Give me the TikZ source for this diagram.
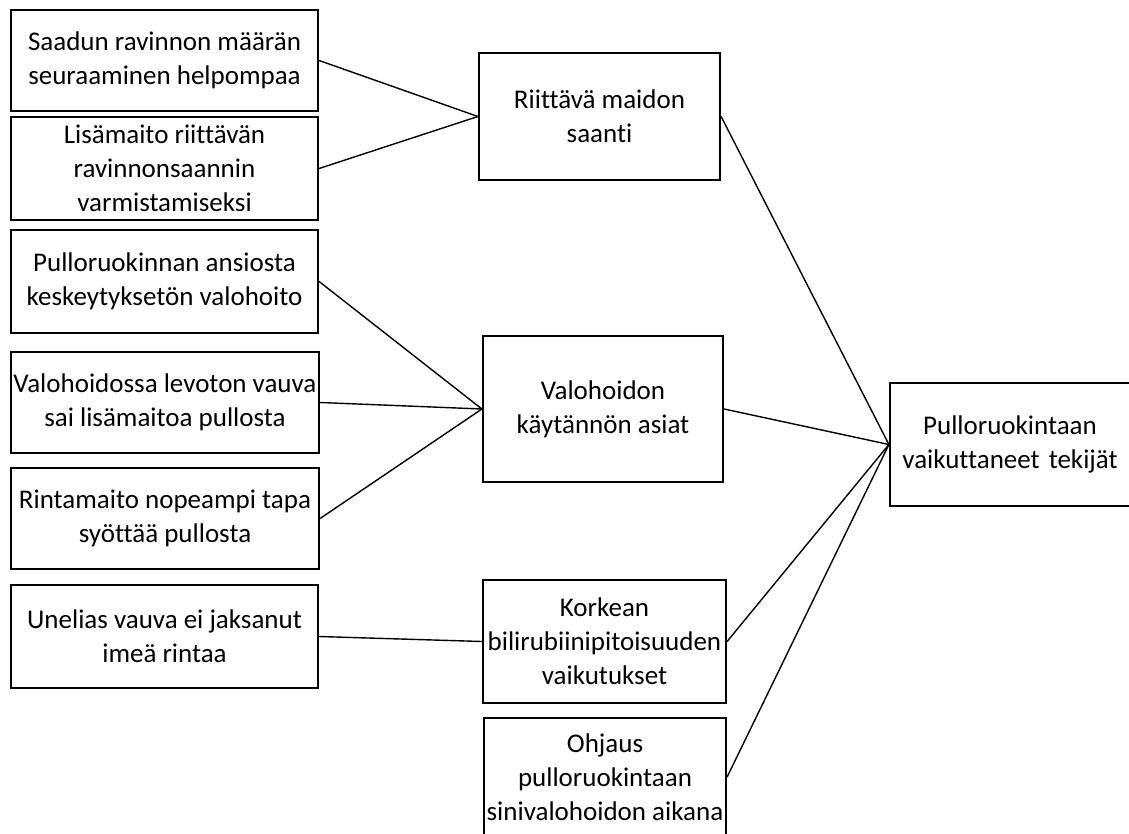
\documentclass[tikz,border=0pt]{standalone}
\usepackage{fontspec}
\setmainfont[RawFeature=-liga]{Carlito}
\begin{document}
\begin{tikzpicture}[x=1pt,y=-1pt,
  box/.style={draw=black, line width=2.2pt, rectangle, align=center, inner sep=0pt,
    font=\fontsize{27}{34}\selectfont},
  conn/.style={draw=black, line width=1.4pt}]
\useasboundingbox (0,0) rectangle (1129,834);
% left boxes
\node[box, minimum width=307pt, minimum height=101pt] (b1) at (164.5,60.5) {Saadun ravinnon määrän\\seuraaminen helpompaa};
\node[box, minimum width=307pt, minimum height=103pt] (b2) at (164.5,168.5) {Lisämaito riittävän\\ravinnonsaannin\\varmistamiseksi};
\node[box, minimum width=307pt, minimum height=103pt] (b3) at (164.5,281.5) {Pulloruokinnan ansiosta\\keskeytyksetön valohoito};
\node[box, minimum width=308pt, minimum height=101pt] (b4) at (165,402.5) {Valohoidossa levoton vauva\\sai lisämaitoa pullosta};
\node[box, minimum width=308pt, minimum height=101pt] (b5) at (165,518.5) {Rintamaito nopeampi tapa\\syöttää pullosta};
\node[box, minimum width=307pt, minimum height=103pt] (b6) at (164.5,636.5) {Unelias vauva ei jaksanut\\imeä rintaa};
% middle boxes
\node[box, minimum width=241pt, minimum height=127pt] (m1) at (599.5,116.5) {Riittävä maidon\\saanti};
\node[box, minimum width=240pt, minimum height=146pt] (m2) at (603,409) {Valohoidon\\käytännön asiat};
\node[box, minimum width=243pt, minimum height=123pt] (m3) at (604.5,641.5) {Korkean\\bilirubiinipitoisuuden\\vaikutukset};
\node[box, minimum width=242pt, minimum height=118pt] (m4) at (605,777) {Ohjaus\\pulloruokintaan\\sinivalohoidon aikana};
% right box
\node[box, minimum width=240pt, minimum height=123pt, text width=240pt] (r) at (1010,444.5) {Pulloruokintaan\\vaikuttaneet tekijät};
% connectors
\draw[conn] (b1.east) -- (m1.west);
\draw[conn] (b2.east) -- (m1.west);
\draw[conn] (b3.east) -- (m2.west);
\draw[conn] (b4.east) -- (m2.west);
\draw[conn] (b5.east) -- (m2.west);
\draw[conn] (b6.east) -- (m3.west);
\draw[conn] (m1.east) -- (r.west);
\draw[conn] (m2.east) -- (r.west);
\draw[conn] (m3.east) -- (r.west);
\draw[conn] (m4.east) -- (r.west);
\end{tikzpicture}
\end{document}
